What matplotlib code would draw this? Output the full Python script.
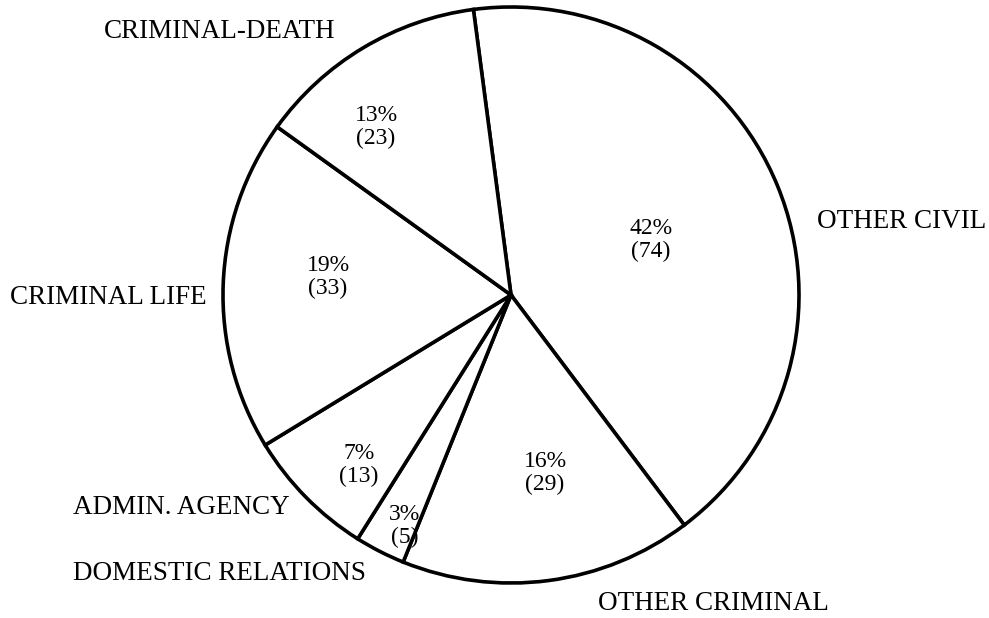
import matplotlib
matplotlib.use("Agg")
import matplotlib.pyplot as plt

categories = ["OTHER CIVIL", "OTHER CRIMINAL", "DOMESTIC RELATIONS",
              "ADMIN. AGENCY", "CRIMINAL LIFE", "CRIMINAL-DEATH"]
counts = [74, 29, 5, 13, 33, 23]

# layout (pixel coords, y from top)
W, H = 989, 618
center = (511, 295)
radius = 288
outer_pos = [(817, 222), (598, 603), (73, 574),
             (73, 508), (10, 297), (104, 32)]
inner_pos = [(651, 240), (545, 473), (405, 526), (359, 465), (328, 277), (376, 127)]

plt.rcParams['font.family'] = ['Liberation Serif', 'DejaVu Serif']
fig = plt.figure(figsize=(W / 100, H / 100), dpi=100)
ax = fig.add_axes([0, 0, 1, 1])
ax.axis('off')

ax.pie(counts, center=(center[0], H - center[1]), radius=radius,
       startangle=97.5, counterclock=False,
       colors=['white'] * len(counts),
       wedgeprops=dict(edgecolor='black', linewidth=2.6))
ax.set_xlim(0, W)
ax.set_ylim(0, H)
ax.set_aspect('equal')

total = sum(counts)
for cat, (x, y) in zip(categories, outer_pos):
    ax.text(x, H - y, cat, ha='left', va='center', fontsize=19.5, color='black')
for c, (x, y) in zip(counts, inner_pos):
    pct = round(100 * c / total)
    ax.text(x, H - y, f"{pct}%\n({c})", ha='center', va='center',
            fontsize=17, color='black', linespacing=1.12)

fig.savefig("out.png", dpi=100, facecolor='white')
